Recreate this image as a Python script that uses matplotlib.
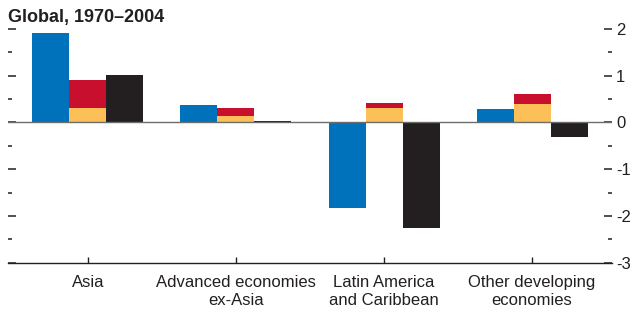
import numpy as np
import matplotlib
matplotlib.use("Agg")
import matplotlib.pyplot as plt
from matplotlib.ticker import MultipleLocator

plt.rcParams['axes.unicode_minus'] = False
plt.rcParams['font.family'] = ['Liberation Sans Narrow', 'Liberation Sans', 'DejaVu Sans']

# Data
categories = ['Asia', 'Advanced economies\nex-Asia', 'Latin America\nand Caribbean',
              'Other developing\neconomies']
blue_vals = [1.91, 0.37, -1.82, 0.28]
yellow_vals = [0.30, 0.13, 0.30, 0.39]
red_vals = [0.60, 0.17, 0.11, 0.21]   # stacked on top of yellow
black_vals = [1.01, 0.04, -2.25, -0.32]
yticks = [-3, -2, -1, 0, 1, 2]

c_blue = '#0072BC'
c_yellow = '#FDBF57'
c_red = '#C8102E'
c_black = '#231F20'

fig = plt.figure(figsize=(6.32, 3.13), dpi=100)
ax = fig.add_axes([8/632, 1 - 262.7/313, (612 - 8)/632, (262.7 - 29)/313])

x = np.arange(len(categories))
w = 0.25
ax.bar(x - w, blue_vals, w, color=c_blue, linewidth=0)
ax.bar(x, yellow_vals, w, color=c_yellow, linewidth=0)
ax.bar(x, red_vals, w, bottom=yellow_vals, color=c_red, linewidth=0)
ax.bar(x + w, black_vals, w, color=c_black, linewidth=0)

ax.axhline(0, color='#6d6d6d', linewidth=1.0, zorder=3)

ax.set_xlim(-0.54, 3.54)
ax.set_ylim(-3, 2)

for s in ['top', 'left', 'right']:
    ax.spines[s].set_visible(False)
ax.spines['bottom'].set_color('#231F20')
ax.spines['bottom'].set_linewidth(1.0)

ax.set_xticks(x)
ax.set_xticklabels(categories, fontsize=12, color='#231F20', linespacing=1.25)
ax.tick_params(axis='x', direction='in', length=4, width=1, pad=9, colors='#231F20')

ax.yaxis.set_major_locator(MultipleLocator(1))
ax.yaxis.set_minor_locator(MultipleLocator(0.5))
ax.set_yticks(yticks)
ax.tick_params(axis='y', which='both', left=True, right=True, labelleft=False,
               labelright=True, direction='in', color='#231F20')
ax.tick_params(axis='y', which='major', length=6, width=1.1, pad=3, labelsize=12,
               labelcolor='#231F20')
ax.tick_params(axis='y', which='minor', length=3, width=1.1)

fig.text(8/632, 1 - 22/313, 'Global, 1970\u20132004', fontsize=13, fontweight='bold',
         color='#231F20', ha='left', va='baseline')

fig.savefig('out.png', dpi=100)
